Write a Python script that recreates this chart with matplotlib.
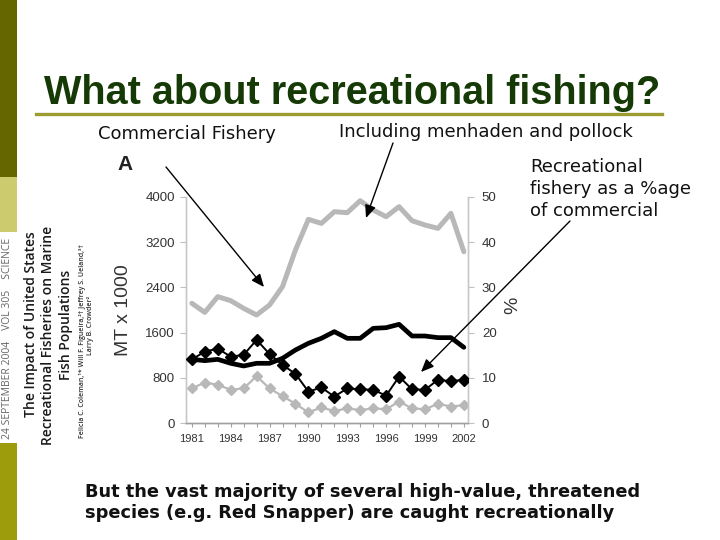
import matplotlib
matplotlib.use('Agg')
import matplotlib.pyplot as plt
from matplotlib import font_manager
from matplotlib.lines import Line2D
from matplotlib.patches import Rectangle, FancyArrowPatch

# ---------------- data ----------------
years = list(range(1981, 2003))
commercial_total = [2118, 1959, 2235, 2165, 2029, 1912, 2088, 2412, 3059, 3600, 3529,
                    3735, 3718, 3929, 3765, 3647, 3824, 3576, 3500, 3441, 3706, 3029]
commercial_excl = [1129, 1106, 1129, 1059, 1012, 1059, 1059, 1147, 1294, 1412, 1500,
                   1618, 1500, 1500, 1676, 1688, 1747, 1541, 1541, 1512, 1512, 1341]
rec_pct_excl = [14.1, 15.8, 16.5, 14.7, 15.1, 18.4, 15.3, 12.9, 10.9, 7.0, 7.9,
                5.9, 7.7, 7.5, 7.4, 6.1, 10.3, 7.5, 7.4, 9.6, 9.3, 9.6]
rec_pct_total = [7.7, 9.0, 8.5, 7.4, 7.7, 10.4, 7.7, 6.0, 4.3, 2.4, 3.5,
                 2.7, 3.3, 2.9, 3.3, 3.1, 4.8, 3.3, 3.1, 4.3, 3.7, 4.0]
left_ticks = [0, 800, 1600, 2400, 3200, 4000]
right_ticks = [0, 10, 20, 30, 40, 50]
year_labels = [1981, 1984, 1987, 1990, 1993, 1996, 1999, 2002]

title_text = "What about recreational fishing?"
label_commercial = "Commercial Fishery"
label_including = "Including menhaden and pollock"
label_recreational = ["Recreational", "fishery as a %age", "of commercial"]
bottom_lines = ["But the vast majority of several high-value, threatened",
                "species (e.g. Red Snapper) are caught recreationally"]
paper_title = ["The Impact of United States", "Recreational Fisheries on Marine",
               "Fish Populations"]
paper_authors = ["Felicia C. Coleman,\u00b9* Will F. Figueira,\u00b2\u2020 Jeffrey S. Ueland,\u00b3\u2020",
                 "Larry B. Crowder\u00b2"]
journal_line = "24 SEPTEMBER 2004    VOL 305    SCIENCE"

W, H = 720, 540
def fx(x):
    return x / W
def fy(y):
    return 1 - y / H

fig = plt.figure(figsize=(7.2, 5.4), dpi=100)
fig.patch.set_facecolor('white')

names = {f.name for f in font_manager.fontManager.ttflist}
if 'Liberation Sans Narrow' in names:
    title_font, title_size = ['Liberation Sans Narrow', 'DejaVu Sans'], 36
else:
    title_font, title_size = ['Liberation Sans', 'DejaVu Sans'], 28.5
arial = ['Liberation Sans', 'DejaVu Sans']
humanist = ['Open Sans', 'DejaVu Sans']

# ---------------- left decorative strip ----------------
fig.add_artist(Rectangle((0, fy(177)), fx(17), 177 / H, transform=fig.transFigure,
                         facecolor='#666600', edgecolor='none'))
fig.add_artist(Rectangle((0, fy(232)), fx(17), (232 - 177) / H, transform=fig.transFigure,
                         facecolor='#cccc6e', edgecolor='none'))
fig.add_artist(Rectangle((0, 0), fx(17), (540 - 443) / H, transform=fig.transFigure,
                         facecolor='#9c9c0c', edgecolor='none'))
fig.text(fx(8), fy(338), journal_line, rotation=90, ha='center', va='center',
         fontsize=7.5, color='#666666', family=humanist)

# paper title (rotated)
for xc, yc, line in zip([31, 48, 66], [324, 335, 325], paper_title):
    fig.text(fx(xc), fy(yc), line, rotation=90, ha='center', va='center',
             fontsize=10, fontweight='semibold', color='#1a1a1a', family=humanist)
for xc, yc, line in zip([83, 91], [341, 325], paper_authors):
    fig.text(fx(xc), fy(yc), line, rotation=90, ha='center', va='center',
             fontsize=5, fontweight='semibold', color='#333333', family=humanist)

# ---------------- title ----------------
fig.text(fx(44), fy(104), title_text, ha='left', va='baseline', fontsize=title_size,
         fontweight='bold', color='#163a06', family=title_font)
fig.add_artist(Line2D([fx(36), fx(662)], [fy(114), fy(114)], transform=fig.transFigure,
                      color='#9c9c30', lw=2.4))

# ---------------- annotations ----------------
fig.text(fx(98), fy(139), label_commercial, ha='left', va='baseline', fontsize=13,
         color='#111111', family=['DejaVu Sans'])
fig.text(fx(339), fy(137), label_including, ha='left', va='baseline', fontsize=13,
         color='#111111', family=['DejaVu Sans'])
for yb, line in zip([172, 194, 216], label_recreational):
    fig.text(fx(530), fy(yb), line, ha='left', va='baseline', fontsize=13,
             color='#111111', family=['DejaVu Sans'])
for yb, line in zip([497, 518], bottom_lines):
    fig.text(fx(85), fy(yb), line, ha='left', va='baseline', fontsize=12.8,
             fontweight='bold', color='#111111', family=['DejaVu Sans'])

# ---------------- chart ----------------
ax_left, ax_right, ax_top, ax_bottom = 186, 468, 196.7, 423.3
ax = fig.add_axes([fx(ax_left), fy(ax_bottom), (ax_right - ax_left) / W,
                   (ax_bottom - ax_top) / H])
ax2 = ax.twinx()

ax.plot(years, commercial_total, color='#b8b8b8', lw=3.6, solid_joinstyle='round',
        solid_capstyle='round', zorder=2)
ax.plot(years, commercial_excl, color='#000000', lw=3.4, solid_joinstyle='round',
        solid_capstyle='round', zorder=3)
ax2.plot(years, rec_pct_total, color='#b8b8b8', lw=1.6, marker='D', markersize=5.5,
         markeredgecolor='#b8b8b8', zorder=2)
ax2.plot(years, rec_pct_excl, color='#000000', lw=1.4, marker='D', markersize=6,
         markeredgecolor='#000000', zorder=3)

ax.set_xlim(1980.55, 2002.32)
ax.set_ylim(0, 4000)
ax2.set_ylim(0, 50)
ax.set_yticks(left_ticks)
ax.set_yticklabels([str(v) for v in left_ticks])
ax2.set_yticks(right_ticks)
ax2.set_yticklabels([str(v) for v in right_ticks])
ax.set_xticks(years)
ax.set_xticklabels([str(y) if y in year_labels else '' for y in years])

for a in (ax, ax2):
    a.set_facecolor('none')
    a.spines['top'].set_visible(False)
    a.spines['left'].set_color('#c8c8c8')
    a.spines['right'].set_color('#c8c8c8')
    a.spines['bottom'].set_color('#a0a0a0')
    for s in ('left', 'right', 'bottom'):
        a.spines[s].set_linewidth(1.0)
ax.tick_params(axis='y', direction='out', length=4, width=0.8, color='#c0c0c0',
               labelsize=9.5, labelcolor='#333333', pad=4)
ax2.tick_params(axis='y', direction='out', length=4, width=0.8, color='#c0c0c0',
                labelsize=9.5, labelcolor='#333333', pad=6)
ax.tick_params(axis='x', direction='out', length=3, width=0.8, color='#a0a0a0',
               labelsize=8, labelcolor='#333333', pad=5)
for lab in ax.get_xticklabels() + ax.get_yticklabels() + ax2.get_yticklabels():
    lab.set_family(arial)

fig.text(fx(123), fy(310), "MT x 1000", rotation=90, ha='center', va='center',
         fontsize=14, color='#333333', family=arial)
fig.text(fx(513), fy(305), "%", rotation=90, ha='center', va='center',
         fontsize=14, color='#333333', family=arial)
fig.text(fx(125), fy(165), "A", ha='center', va='center', fontsize=15,
         fontweight='bold', color='#222222', family=arial)

# ---------------- arrows ----------------
arrows = [((166, 167), (264, 287)), ((393, 143), (366, 218)), ((570, 221), (421, 372))]
for (x1, y1), (x2, y2) in arrows:
    fig.add_artist(FancyArrowPatch((fx(x1), fy(y1)), (fx(x2), fy(y2)),
                                   transform=fig.transFigure,
                                   arrowstyle='-|>,head_length=0.7,head_width=0.3',
                                   mutation_scale=11, lw=1.0, color='black',
                                   shrinkA=0, shrinkB=0, zorder=10))

fig.savefig('out.png', dpi=100)
